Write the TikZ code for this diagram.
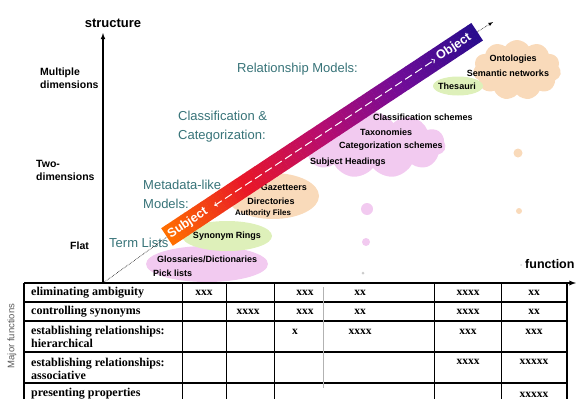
\documentclass[tikz,border=0pt]{standalone}
\usepackage{fontspec}
\setmainfont{Liberation Sans}
\newfontfamily\tabfont{Liberation Serif}
\usetikzlibrary{shapes.geometric,shapes.symbols}

\definecolor{modelteal}{RGB}{55,115,120}
\definecolor{cloudpink}{RGB}{242,202,240}
\definecolor{cloudgreen}{RGB}{222,240,186}
\definecolor{cloudpeach}{RGB}{249,218,186}
\definecolor{bandA}{RGB}{255,110,0}
\definecolor{bandB}{RGB}{232,22,40}
\definecolor{bandC}{RGB}{182,12,112}
\definecolor{bandD}{RGB}{112,12,152}
\definecolor{bandE}{RGB}{38,12,140}

\begin{document}
\begin{tikzpicture}[x=1pt, y=-1pt, >=latex,
  axislbl/.style={font=\fontsize{10.5}{13.5}\selectfont\bfseries, align=left, anchor=west, inner sep=0pt},
  modellbl/.style={font=\fontsize{13}{19}\selectfont, text=modelteal, align=left, anchor=west, inner sep=0pt},
  termlbl/.style={font=\fontsize{9}{11}\selectfont\bfseries, inner sep=0pt},
  blob/.style={ellipse, inner sep=0pt},
  puff/.style={cloud, cloud puffs=11, cloud puff arc=115, cloud ignores aspect, inner sep=0pt},
  bandtext/.style={text=white, font=\fontsize{12.5}{14}\selectfont\bfseries, rotate=33.5, inner sep=1pt},
  bandarrow/.style={white, line width=1pt, dash pattern=on 8pt off 4pt, <->, >=to},
  dotline/.style={densely dotted, line width=0.6pt},
  tabline/.style={line width=1.3pt},
  rowlbl/.style={font=\tabfont\fontsize{12}{13}\selectfont\bfseries, anchor=west, align=left, inner sep=0pt},
  cellx/.style={font=\tabfont\fontsize{11.5}{13}\selectfont\bfseries, inner sep=0pt}]
  \useasboundingbox (0,0) rectangle (576,399);

  % axes
  \coordinate (origin) at (103,283);
  \coordinate (ytip) at (103,33);
  \coordinate (tabtl) at (24,283);
  \coordinate (xtip) at (576,283);
  \draw[line width=1.1pt,->] (origin) -- (ytip);
  \node[font=\fontsize{13}{15}\selectfont\bfseries] (ylbl) at (113,23) {structure};
  \node[font=\fontsize{12.5}{15}\selectfont\bfseries, anchor=west, inner sep=0pt] (xlbl) at (525,264) {function};
  \node[axislbl] (multi) at (40,78) {Multiple\\dimensions};
  \node[axislbl] (twodim) at (36,170.5) {Two-\\dimensions};
  \node[axislbl] (flat) at (70,246) {Flat};

  % clouds and blobs
  \node[blob, fill=cloudpink, minimum width=122pt, minimum height=36pt] (glossell) at (207,264) {};
  \node[blob, fill=cloudgreen, minimum width=90pt, minimum height=30pt] (synell) at (227,236) {};
  \node[blob, fill=cloudpeach, minimum width=92pt, minimum height=46pt] (gazell) at (273,196) {};
  \node[puff, fill=cloudpink, minimum width=145pt, minimum height=66pt] (classcloud) at (373,145) {};
  \node[puff, fill=cloudpeach, minimum width=88pt, minimum height=60pt] (ontocloud) at (517,70) {};
  \node[blob, fill=cloudgreen, minimum width=50pt, minimum height=19pt] (thesell) at (458,86) {};
  \fill[cloudpink] (367,209) circle (6pt);
  \fill[cloudpink] (366,242) circle (4pt);
  \fill[gray!40] (363,273) circle (1.5pt);
  \fill[cloudpeach] (518,153) circle (4.5pt);
  \fill[cloudpeach] (519,211) circle (3pt);
  \fill[gray!30] (521,265) circle (1pt);

  % term labels
  \node[termlbl, anchor=west] (gloss) at (157,259) {Glossaries/Dictionaries};
  \node[termlbl, anchor=west] (pick) at (153,273) {Pick lists};
  \node[termlbl] (syn) at (227,236) {Synonym Rings};
  \node[termlbl, anchor=east] (gaz) at (307,187) {Gazetteers};
  \node[termlbl] (dir) at (271,201) {Directories};
  \node[termlbl, font=\fontsize{8}{10}\selectfont\bfseries] (auth) at (263,213) {Authority Files};
  \node[termlbl, anchor=west] (clsch) at (373,117) {Classification schemes};
  \node[termlbl, anchor=west] (tax) at (360,132) {Taxonomies};
  \node[termlbl, anchor=west] (catsch) at (339,146) {Categorization schemes};
  \node[termlbl, anchor=west] (subjhd) at (310,162) {Subject Headings};
  \node[termlbl] (thes) at (457,86) {Thesauri};
  \node[termlbl] (onto) at (513,59) {Ontologies};
  \node[termlbl] (sem) at (508,73) {Semantic networks};

  % model labels
  \node[modellbl] (relmod) at (237,69) {Relationship Models:};
  \node[modellbl] (classmod) at (178,126.5) {Classification \&\\Categorization:};
  \node[modellbl] (metamod) at (143,194.5) {Metadata-like\\Models:};
  \node[modellbl] (termmod) at (109,243) {Term Lists};

  % subject-object band
  \coordinate (subj) at (167,237);
  \coordinate (obj) at (477,32);
  \coordinate (objtip) at (493,22);
  \draw[dotline] (origin) -- (subj);
  \draw[dotline,->] (obj) -- (objtip);
  \begin{scope}[shift={(subj)}, rotate=33.5]
    \foreach \ca/\cb [count=\s from 0] in {bandA/bandB,bandB/bandC,bandC/bandD,bandD/bandE}
      \foreach \j in {0,...,19} {
        \pgfmathtruncatemacro\pct{\j*5}
        \pgfmathsetmacro\xs{(\s*20+\j)*4.645}
        \fill[fill=\cb!\pct!\ca] (\xs,-10.5) rectangle ({\xs+5},10.5);
      }
    \node[bandtext] (subjlbl) at (25,0) {Subject};
    \node[bandtext] (objlbl) at (344,0) {Object};
  \end{scope}
  \draw[bandarrow, shorten <=8pt, shorten >=2pt] (subjlbl) -- (objlbl);

  % table of major functions
  \draw[tabline,->] (tabtl) -- (xtip);
  \draw[tabline] (24,283) -- (24,399);
  \draw[tabline] (567,283) -- (567,399);
  \foreach \y in {302,321,352,383}
    \draw[tabline] (24,\y) -- (567,\y);
  \foreach \x in {182,226,274,434,501}
    \draw[line width=0.8pt] (\x,283) -- (\x,399);
  \draw[gray!60, line width=0.8pt] (323,287) -- (323,388);
  \node[rotate=90, text=gray!70!black, font=\fontsize{9.5}{11}\selectfont] (majfn) at (12,336) {Major functions};
  \node[rowlbl] (rowA) at (31,293) {eliminating ambiguity};
  \node[rowlbl] (rowB) at (31,312) {controlling synonyms};
  \node[rowlbl] (rowC) at (31,336.5) {establishing relationships:\\hierarchical};
  \node[rowlbl] (rowD) at (31,368.5) {establishing relationships:\\associative};
  \node[rowlbl] (rowE) at (31,394) {presenting properties};
  \foreach \cx/\cy/\ct [count=\k] in {204/293/xxx, 305/293/xxx, 360/293/xx, 468/293/xxxx, 534/293/xx,
      248/312/xxxx, 305/312/xxx, 360/312/xx, 468/312/xxxx, 534/312/xx,
      295/332/x, 360/332/xxxx, 468/332/xxx, 534/332/xxx,
      468/362/xxxx, 534/362/xxxxx, 534/395/xxxxx}
    \node[cellx] (cell\k) at (\cx,\cy) {\ct};
\end{tikzpicture}
\end{document}
